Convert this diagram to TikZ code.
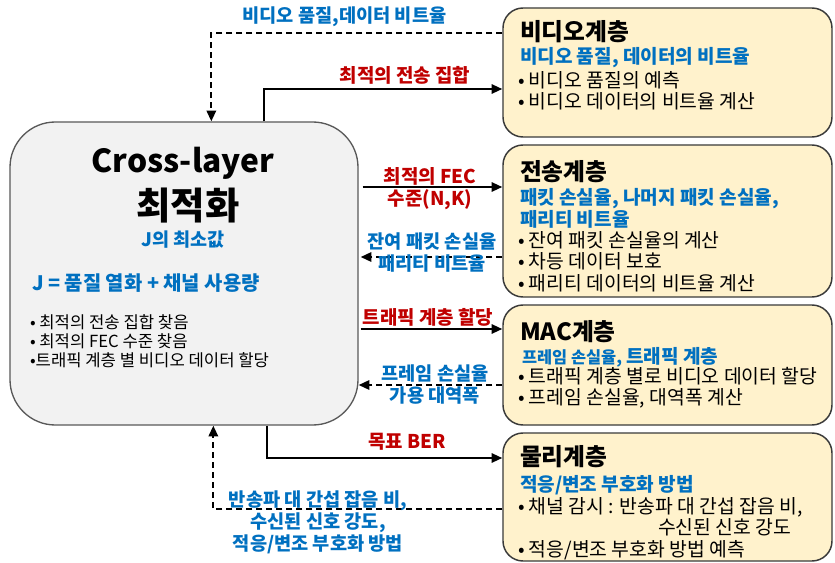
\documentclass[tikz,border=0pt]{standalone}
\usepackage{fontspec}
\setmainfont{Noto Sans CJK KR}
\usetikzlibrary{arrows.meta,calc,fit}
\definecolor{kblue}{HTML}{0070C0}
\definecolor{kred}{HTML}{C00000}
\definecolor{lfill}{HTML}{F2F2F2}
\definecolor{lborder}{HTML}{595959}
\definecolor{rfill}{HTML}{FFF2CC}
\definecolor{rborder}{HTML}{3A3A3A}
\tikzset{
  lbox/.style={draw=lborder,fill=lfill,line width=1pt,rounded corners=34pt,inner sep=0pt},
  rbox/.style={draw=rborder,fill=rfill,line width=1.1pt,rounded corners=15pt,inner sep=0pt},
  txt/.style={inner sep=0pt,outer sep=0pt},
  solidarrow/.style={line width=1.5pt,-{Triangle[length=8pt,width=7pt]}},
  dasharrow/.style={line width=1.5pt,dash pattern=on 4.5pt off 3pt,-{Triangle[length=8pt,width=7pt]}},
  redlbl/.style={txt,text=kred,font=\bfseries\fontsize{14.2}{16.5}\selectfont,align=center},
  bluelbl/.style={txt,text=kblue,font=\bfseries\fontsize{14}{16.5}\selectfont,align=center},
  rtitle/.style={txt,anchor=west,font=\bfseries\fontsize{17.8}{19}\selectfont},
  rblue/.style={txt,anchor=west,text=kblue,font=\bfseries\fontsize{14.3}{15}\selectfont,align=left},
  rbul/.style={txt,anchor=west,font=\fontsize{14.5}{16}\selectfont,align=left},
}
\begin{document}
\begin{tikzpicture}[x=0.75pt,y=-0.75pt]
\useasboundingbox (0,0) rectangle (835,563);
\fill[white] (0,0) rectangle (835,563);
% boxes
\node[lbox,fit={(10,122)(358,425)}] (cl) {};
\node[rbox,fit={(503,8)(832,137)}] (vid) {};
\node[rbox,fit={(503,145)(832,297)}] (tr) {};
\node[rbox,fit={(503,305)(832,425)}] (mac) {};
\node[rbox,fit={(503,433)(832,561)}] (phy) {};
% left box texts
\node[txt,font=\bfseries\fontsize{23.8}{28}\selectfont] (t1) at (183,163) {Cross-layer};
\node[txt,font=\bfseries\fontsize{28}{30}\selectfont] (t2) at (188,206) {최적화};
\node[txt,text=kblue,font=\bfseries\fontsize{13.9}{15}\selectfont] (t3) at (183,240) {J의 최소값};
\node[txt,anchor=west,text=kblue,font=\bfseries\fontsize{14.9}{16}\selectfont] (t4) at (32,283) {J = 품질 열화 + 채널 사용량};
\node[txt,anchor=west,align=left,font=\fontsize{12.5}{14.25}\selectfont] (t5) at (30,341) {• 최적의 전송 집합 찾음\\• 최적의 FEC 수준 찾음\\•트래픽 계층 별 비디오 데이터 할당};
% video box
\node[rtitle] (v1) at (520,32) {비디오계층};
\node[rblue] (v2) at (520,58) {비디오 품질, 데이터의 비트율};
\node[rbul] (v3) at (518,91) {• 비디오 품질의 예측\\• 비디오 데이터의 비트율 계산};
% transport box
\node[rtitle] (r1) at (520,172) {전송계층};
\node[rblue] (r2) at (520,208) {패킷 손실율, 나머지 패킷 손실율,\\패리티 비트율};
\node[rbul] (r3) at (518,261.5) {• 잔여 패킷 손실율의 계산\\• 차등 데이터 보호\\• 패리티 데이터의 비트율 계산};
% MAC box
\node[rtitle] (m1) at (520,332) {MAC계층};
\node[rblue] (m2) at (522,357) {{\fontsize{12.3}{15}\selectfont 프레임 손실율,} 트래픽 계층};
\node[rbul] (m3) at (518,388) {• 트래픽 계층 별로 비디오 데이터 할당\\• 프레임 손실율, 대역폭 계산};
% physical box
\node[rtitle] (p1) at (520,457) {물리계층};
\node[rblue] (p2) at (520,485) {적응/변조 부호화 방법};
\node[rbul] (p3) at (518,528.5) {• 채널 감시 : 반송파 대 간섭 잡음 비,\\\hspace*{105pt}수신된 신호 강도\\• 적응/변조 부호화 방법 예측};
% connectors
\draw[dasharrow] ($(vid.west)+(0,-39.5)$) -| ($(cl.north west)+(202,0)$);
\node[bluelbl] (l1) at (344.5,17) {비디오 품질,데이터 비트율};
\draw[solidarrow] ($(cl.north west)+(255,0)$) |- ($(vid.west)+(0,16.5)$);
\node[redlbl] (l2) at (405,75) {최적의 전송 집합};
\draw[solidarrow] ($(cl.east)+(4,-86.5)$) -- ($(tr.west)+(0,-34)$);
\node[redlbl] (l3) at (430,189) {최적의 FEC\\수준(N,K)};
\draw[dasharrow] ($(tr.west)+(0,36)$) -- ($(cl.east)+(2,-16.5)$);
\node[bluelbl] (l4) at (432,253) {잔여 패킷 손실율\\패리티 비트율};
\draw[solidarrow] ($(cl.east)+(2,55.5)$) -- ($(mac.west)+(0,-36)$);
\node[redlbl] (l5) at (428,317) {트래픽 계층 할당};
\draw[dasharrow] ($(mac.west)+(0,20)$) -- ($(cl.east)+(0,111.5)$);
\node[bluelbl] (l6) at (435,385) {프레임 손실율\\가용 대역폭};
\draw[solidarrow] ($(cl.south west)+(258,0)$) |- ($(phy.west)+(0,-39)$);
\node[redlbl] (l7) at (407,442) {목표 BER};
\draw[dasharrow] ($(phy.west)+(0,12)$) -| ($(cl.south west)+(204,0)$);
\node[bluelbl] (l8) at (318,522.5) {반송파 대 간섭 잡음 비,\\수신된 신호 강도,\\적응/변조 부호화 방법};
\end{tikzpicture}
\end{document}
